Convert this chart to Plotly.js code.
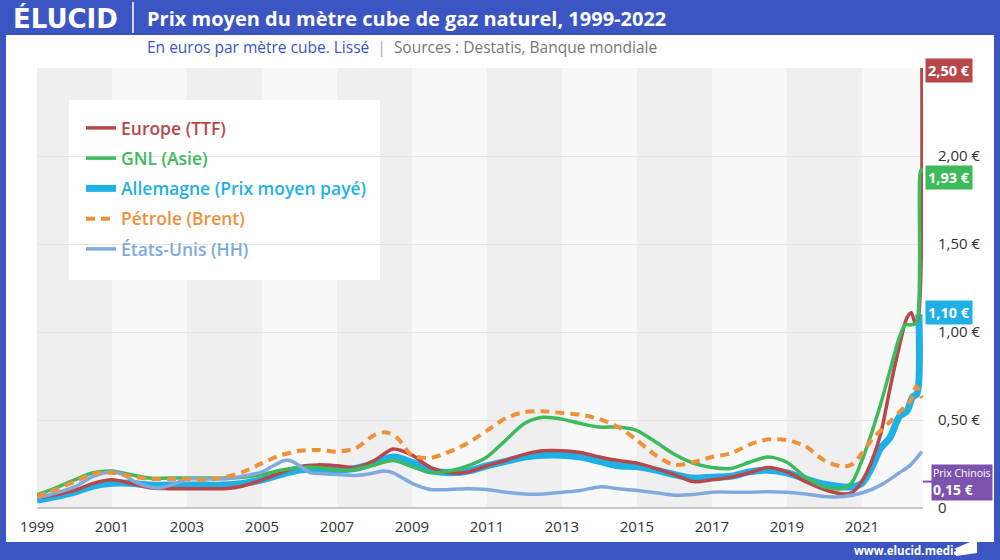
<!DOCTYPE html>
<html>
<head>
<meta charset="utf-8">
<script src="https://cdn.plot.ly/plotly-3.0.1.min.js"></script>
<style>
html,body{margin:0;padding:0;background:#fff;}
#chart{width:1000px;height:560px;}
</style>
</head>
<body>
<div id="chart"></div>
<script>
// ---------- DATA ----------
const europeX = [1999,1999.5,2000,2000.5,2001,2001.5,2002,2002.5,2003,2003.5,2004,2004.5,2005,2005.5,2006,2006.5,2007,2007.5,2008,2008.5,2009,2009.5,2010,2010.5,2011,2011.5,2012,2012.5,2013,2013.5,2014,2014.5,2015,2015.5,2016,2016.5,2017,2017.5,2018,2018.5,2019,2019.5,2020,2020.5,2020.75,2021,2021.25,2021.5,2021.75,2022,2022.2,2022.32,2022.42,2022.5,2022.6];
const europeY = [0.057,0.075,0.10,0.14,0.16,0.14,0.115,0.11,0.11,0.11,0.11,0.125,0.16,0.20,0.235,0.245,0.24,0.23,0.27,0.335,0.30,0.23,0.20,0.205,0.24,0.27,0.305,0.325,0.325,0.315,0.29,0.27,0.255,0.225,0.19,0.15,0.16,0.175,0.20,0.23,0.205,0.15,0.105,0.08,0.09,0.15,0.26,0.42,0.68,0.92,1.08,1.11,1.05,1.08,2.50];

const gnlX = [1999,1999.5,2000,2000.5,2001,2001.5,2002,2002.5,2003,2003.5,2004,2004.5,2005,2005.5,2006,2006.5,2007,2007.5,2008,2008.5,2009,2009.5,2010,2010.5,2011,2011.5,2012,2012.5,2013,2013.5,2014,2014.5,2015,2015.5,2016,2016.5,2017,2017.5,2018,2018.5,2019,2019.5,2020,2020.5,2020.75,2021,2021.25,2021.5,2021.75,2022,2022.15,2022.3,2022.45,2022.55,2022.6];
const gnlY = [0.075,0.115,0.16,0.20,0.21,0.19,0.17,0.17,0.17,0.17,0.17,0.175,0.19,0.215,0.23,0.23,0.215,0.22,0.245,0.27,0.235,0.20,0.21,0.24,0.29,0.385,0.48,0.515,0.505,0.48,0.46,0.46,0.44,0.375,0.305,0.255,0.23,0.225,0.26,0.29,0.26,0.175,0.12,0.11,0.15,0.27,0.42,0.59,0.78,0.97,1.04,1.04,1.05,1.90,1.93];

const allemagneX = [1999,1999.5,2000,2000.5,2001,2001.5,2002,2002.5,2003,2003.5,2004,2004.5,2005,2005.5,2006,2006.5,2007,2007.5,2008,2008.5,2009,2009.5,2010,2010.5,2011,2011.5,2012,2012.5,2013,2013.5,2014,2014.5,2015,2015.5,2016,2016.5,2017,2017.5,2018,2018.5,2019,2019.5,2020,2020.5,2020.75,2021,2021.25,2021.5,2021.75,2022,2022.2,2022.35,2022.47,2022.52];
const allemagneY = [0.045,0.065,0.09,0.125,0.14,0.14,0.13,0.13,0.13,0.13,0.13,0.14,0.16,0.19,0.215,0.225,0.215,0.225,0.255,0.29,0.26,0.215,0.20,0.21,0.24,0.265,0.29,0.30,0.30,0.29,0.265,0.24,0.235,0.215,0.19,0.17,0.175,0.18,0.205,0.215,0.20,0.165,0.135,0.12,0.12,0.14,0.225,0.34,0.40,0.52,0.55,0.63,0.65,1.10];

const brentX = [1999,1999.5,2000,2000.5,2001,2001.5,2002,2002.5,2003,2003.5,2004,2004.5,2005,2005.5,2006,2006.5,2007,2007.5,2008,2008.3,2008.6,2009,2009.5,2010,2010.5,2011,2011.5,2012,2012.5,2013,2013.5,2014,2014.5,2015,2015.5,2016,2016.5,2017,2017.5,2018,2018.5,2019,2019.5,2020,2020.5,2020.75,2021,2021.25,2021.5,2021.75,2022,2022.15,2022.3,2022.45,2022.6];
const brentY = [0.065,0.105,0.15,0.195,0.20,0.18,0.165,0.165,0.165,0.16,0.175,0.205,0.255,0.30,0.325,0.33,0.32,0.34,0.415,0.43,0.40,0.30,0.285,0.32,0.37,0.44,0.51,0.545,0.55,0.54,0.53,0.505,0.46,0.385,0.30,0.245,0.26,0.29,0.31,0.36,0.39,0.385,0.35,0.27,0.235,0.25,0.31,0.385,0.44,0.49,0.545,0.575,0.61,0.69,0.625];

const usX = [1999,1999.5,2000,2000.5,2001,2001.3,2001.6,2002,2002.3,2002.7,2003,2003.5,2004,2004.5,2005,2005.3,2005.6,2005.8,2006,2006.3,2006.6,2007,2007.5,2008,2008.25,2008.5,2009,2009.5,2010,2010.5,2011,2011.5,2012,2012.5,2013,2013.5,2014,2014.5,2015,2015.5,2016,2016.5,2017,2017.5,2018,2018.5,2019,2019.5,2020,2020.5,2021,2021.5,2022,2022.3,2022.6];
const usY = [0.057,0.085,0.12,0.18,0.205,0.19,0.15,0.12,0.115,0.14,0.165,0.165,0.165,0.18,0.205,0.24,0.27,0.265,0.24,0.20,0.195,0.19,0.185,0.20,0.21,0.20,0.14,0.105,0.105,0.11,0.105,0.09,0.08,0.08,0.09,0.10,0.12,0.11,0.10,0.087,0.073,0.077,0.09,0.09,0.09,0.093,0.09,0.08,0.065,0.065,0.085,0.13,0.20,0.245,0.32];

const prixChinois = 0.15;

const seriesNames = ['Europe (TTF)','GNL (Asie)','Allemagne (Prix moyen payé)','Pétrole (Brent)','États-Unis (HH)'];
const xTickVals = [1999,2001,2003,2005,2007,2009,2011,2013,2015,2017,2019,2021];
const yTickVals = [0,0.5,1.0,1.5,2.0];
const yTickText = ['0','0,50 €','1,00 €','1,50 €','2,00 €'];
const endLabels = ['2,50 €','1,93 €','1,10 €'];

// ---------- STYLE ----------
const C = {europe:'#b8474a', gnl:'#3dba5c', allemagne:'#1fb0e6', brent:'#f0913a', us:'#80aade',
           brand:'#3b55c3', purple:'#7d52ad'};
const FONT = '"Open Sans", Lato, sans-serif';

// plot area in pixels
const L=37, R=923, T=68, B=508, W=R-L, H=B-T;
const px = x => (x-L)/W;
const py = y => (B-y)/H;

function tr(x,y,name,color,width,rank,dash){
  return {x:x,y:y,type:'scatter',mode:'lines',
    name:'<span style="color:'+color+'">'+name+'</span>',
    legendgroup:'g'+rank, legendrank:rank,
    line:{color:color,width:width,shape:'spline',smoothing:0.8,dash:dash||'solid'},
    hoverinfo:'skip'};
}

const data = [
  tr(allemagneX,allemagneY,seriesNames[2],C.allemagne,7,3),
  tr(europeX,europeY,seriesNames[0],C.europe,3.5,1),
  tr(gnlX,gnlY,seriesNames[1],C.gnl,3.5,2),
  tr(usX,usY,seriesNames[4],C.us,3.5,5),
  tr(brentX,brentY,seriesNames[3],C.brent,4,4,'9px,6px')
];

// shapes
const shapes = [];
for(let y=1999; y<2022; y+=4){
  shapes.push({type:'rect',xref:'x',yref:'paper',x0:y,x1:y+2,y0:0,y1:1,fillcolor:'#efefef',line:{width:0},layer:'below'});
}
// legend white box
shapes.push({type:'rect',xref:'paper',yref:'paper',x0:px(69),x1:px(380),y0:py(280),y1:py(100),fillcolor:'#ffffff',line:{width:0},layer:'between'});
// frame
shapes.push({type:'rect',xref:'paper',yref:'paper',x0:px(0),x1:px(1000),y0:py(35),y1:py(0),fillcolor:C.brand,line:{width:0},layer:'above'});
shapes.push({type:'rect',xref:'paper',yref:'paper',x0:px(0),x1:px(6),y0:py(560),y1:py(0),fillcolor:C.brand,line:{width:0},layer:'above'});
shapes.push({type:'rect',xref:'paper',yref:'paper',x0:px(994),x1:px(1000),y0:py(560),y1:py(0),fillcolor:C.brand,line:{width:0},layer:'above'});
shapes.push({type:'rect',xref:'paper',yref:'paper',x0:px(0),x1:px(1000),y0:py(560),y1:py(542),fillcolor:C.brand,line:{width:0},layer:'above'});
shapes.push({type:'line',xref:'paper',yref:'paper',x0:px(133),x1:px(133),y0:py(2),y1:py(33),line:{color:'#ffffff',width:1.5},layer:'above'});
// pennant
shapes.push({type:'path',xref:'paper',yref:'paper',
  path:'M '+px(956)+' '+py(548)+' L '+px(977)+' '+py(539)+' L '+px(977)+' '+py(553)+' L '+px(956)+' '+py(556)+' Z',
  fillcolor:'#ffffff',line:{width:0},layer:'above'});
// Prix chinois connector
shapes.push({type:'line',xref:'paper',yref:'y',x0:1,x1:px(932),y0:prixChinois,y1:prixChinois,line:{color:C.purple,width:2},layer:'above'});

const lastOf = a => a[a.length-1];
function endLabel(text,yv,bg,yshift){
  return {xref:'paper',yref:'y',x:px(925),y:yv,xanchor:'left',yanchor:'middle',showarrow:false,
    text:'<b>'+text+'</b>',font:{family:FONT,size:14.5,color:'#ffffff'},bgcolor:bg,borderpad:2,yshift:yshift||0};
}

const annotations = [
  {xref:'paper',yref:'paper',x:px(11),y:py(18),xanchor:'left',yanchor:'middle',showarrow:false,
   text:'<b>ÉLUCID</b>',font:{family:'"DejaVu Sans", sans-serif',size:26,color:'#ffffff'}},
  {xref:'paper',yref:'paper',x:px(145),y:py(18),xanchor:'left',yanchor:'middle',showarrow:false,
   text:'<b>Prix moyen du mètre cube de gaz naturel, 1999-2022</b>',font:{family:FONT,size:20,color:'#ffffff'}},
  {xref:'paper',yref:'paper',x:px(145),y:py(47),xanchor:'left',yanchor:'middle',showarrow:false,
   text:'<span style="color:'+C.brand+'">En euros par mètre cube. Lissé</span>  <span style="color:#aaaaaa">|</span>  <span style="color:#777777">Sources : Destatis, Banque mondiale</span>',
   font:{family:FONT,size:15.5,color:'#777777'}},
  {xref:'paper',yref:'paper',x:px(907),y:py(550),xanchor:'center',yanchor:'middle',showarrow:false,
   text:'<b>www.elucid.media</b>',font:{family:FONT,size:11.5,color:'#ffffff'}},
  endLabel(endLabels[0],lastOf(europeY),C.europe,-2),
  endLabel(endLabels[1],lastOf(gnlY),'#3dba5c',-9),
  endLabel(endLabels[2],lastOf(allemagneY),C.allemagne,2),
  {xref:'paper',yref:'y',x:px(931),y:prixChinois,xanchor:'left',yanchor:'middle',showarrow:false,align:'left',
   text:'<span style="font-size:10.5px">Prix Chinois</span><br><b>0,15 €</b>',
   font:{family:FONT,size:14,color:'#ffffff'},bgcolor:C.purple,borderpad:1,yshift:-1}
];

const layout = {
  width:1000,height:560,
  margin:{l:L,r:1000-R,t:T,b:560-B,pad:0},
  paper_bgcolor:'#ffffff',plot_bgcolor:'#f8f8f8',
  font:{family:FONT,color:'#333333'},
  showlegend:true,
  legend:{x:px(81),y:py(110),xanchor:'left',yanchor:'top',bgcolor:'rgba(0,0,0,0)',
    font:{family:FONT,size:17.5,weight:600},tracegroupgap:4.5,itemwidth:30,traceorder:'grouped'},
  xaxis:{range:[1999,2022.63],tickvals:xTickVals,ticktext:xTickVals.map(String),showgrid:false,zeroline:false,
    showline:false,ticks:'',tickfont:{family:FONT,size:15,color:'#333333'},ticklabelstandoff:8,fixedrange:true},
  yaxis:{range:[0,2.5],side:'right',tickvals:yTickVals,ticktext:yTickText,showgrid:true,gridcolor:'#e4e4e4',gridwidth:1,
    zeroline:true,zerolinecolor:'#c9c9c9',zerolinewidth:1.5,showline:false,ticks:'',
    tickfont:{family:FONT,size:15,color:'#333333'},ticklabelstandoff:14,fixedrange:true},
  shapes:shapes,
  annotations:annotations,
  hovermode:false
};

Plotly.newPlot('chart',data,layout,{staticPlot:true,displayModeBar:false});
</script>
</body>
</html>
